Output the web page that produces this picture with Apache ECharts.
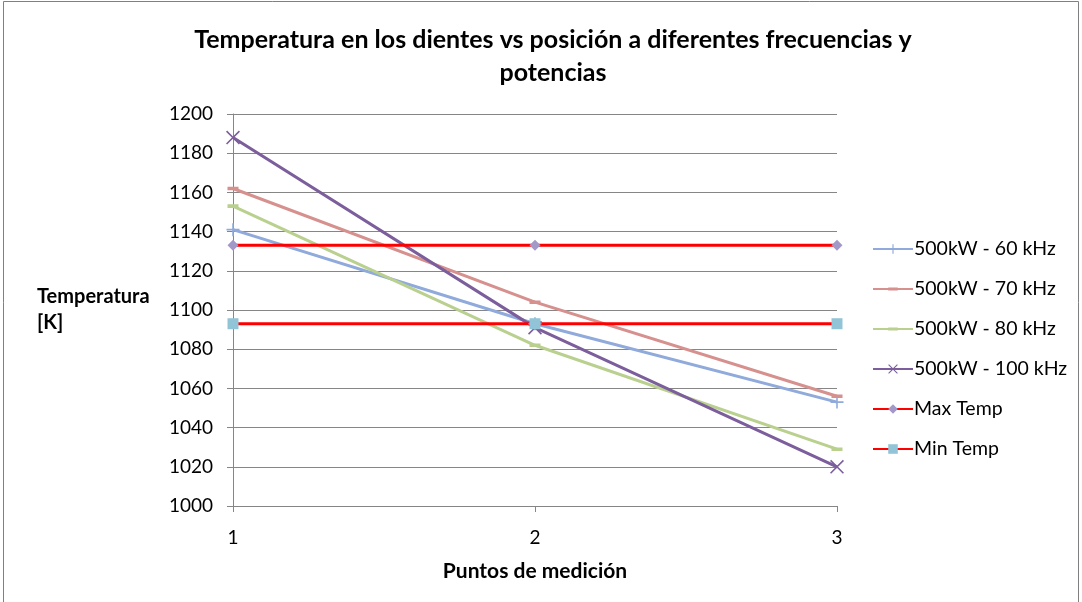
<!DOCTYPE html>
<html>
<head>
<meta charset="utf-8">
<script src="https://cdn.jsdelivr.net/npm/echarts@6/dist/echarts.min.js"></script>
<style>
  html, body { margin: 0; padding: 0; background: #fff; }
  #chart { width: 1082px; height: 602px; }
</style>
</head>
<body>
<div id="chart"></div>
<script>
// Measurement points along the tooth
const categories = ['1', '2', '3'];

// Temperatures [K] per power / frequency combination
const t60kHz = [1141, 1093, 1053];
const t70kHz = [1162, 1104, 1056];
const t80kHz = [1153, 1082, 1029];
const t100kHz = [1188, 1091, 1020];

// Limits
const maxTemp = [1133, 1133, 1133];
const minTemp = [1093, 1093, 1093];

const seriesNames = [
  '500kW - 60 kHz',
  '500kW - 70 kHz',
  '500kW - 80 kHz',
  '500kW - 100 kHz',
  'Max Temp',
  'Min Temp'
];

const FONT = 'Lato';

const plusSym = 'path://M4.4,0h1.2v10h-1.2z M0,4.4h10v1.2h-10z';
const crossSym = 'path://M0,0.8L0.8,0L10,9.2L9.2,10z M9.2,0L10,0.8L0.8,10L0,9.2z';
// short horizontal dash centred in a square box (the open sub-paths only widen the box)
const dashSym = 'path://M0,0L10,0 M0,3.4h10v3.2h-10z M0,10L10,10';

function lineSeries(name, data, color, symbol, size, symColor) {
  return {
    name: name,
    type: 'line',
    data: data,
    symbol: symbol,
    symbolSize: size,
    showSymbol: true,
    lineStyle: { color: color, width: 3 },
    itemStyle: { color: symColor || color },
    emphasis: { disabled: true },
    z: 2
  };
}

const chart = echarts.init(document.getElementById('chart'), null, { renderer: 'canvas' });

chart.setOption({
  animation: false,
  backgroundColor: '#ffffff',
  title: {
    text: 'Temperatura en los dientes vs posición a diferentes frecuencias y\npotencias',
    left: 548,
    textAlign: 'center',
    top: 18,
    textStyle: {
      fontFamily: FONT,
      fontWeight: 'bold',
      fontSize: 25,
      lineHeight: 33,
      color: '#000'
    }
  },
  legend: {
    orient: 'vertical',
    left: 872,
    top: 239,
    padding: 0,
    itemWidth: 40,
    itemHeight: 12,
    itemGap: 20,
    textStyle: { fontFamily: FONT, fontSize: 19.5, color: '#000', padding: [0, 0, 0, -4] },
    data: seriesNames
  },
  grid: { left: 233, right: 245, top: 114, bottom: 96 },
  xAxis: {
    type: 'category',
    data: categories,
    boundaryGap: false,
    name: 'Puntos de medición',
    nameLocation: 'middle',
    nameGap: 55,
    nameTextStyle: { fontFamily: FONT, fontWeight: 'bold', fontSize: 21, color: '#000' },
    axisLine: { lineStyle: { color: '#868686', width: 1 } },
    axisTick: { show: true, alignWithLabel: true, length: 6, lineStyle: { color: '#868686' } },
    axisLabel: { fontFamily: FONT, fontSize: 19, color: '#000', margin: 22 },
    splitLine: { show: false }
  },
  yAxis: {
    type: 'value',
    min: 1000,
    max: 1200,
    interval: 20,
    name: 'Temperatura\n[K]',
    nameLocation: 'middle',
    nameRotate: 0,
    nameGap: 196,
    nameTextStyle: { fontFamily: FONT, fontWeight: 'bold', fontSize: 20, color: '#000', lineHeight: 26, align: 'left' },
    axisLine: { show: true, lineStyle: { color: '#868686', width: 1 } },
    axisTick: { show: true, length: 6, lineStyle: { color: '#868686' } },
    axisLabel: { fontFamily: FONT, fontSize: 19, color: '#000', margin: 20, formatter: v => String(v) },
    splitLine: { show: true, lineStyle: { color: '#868686', width: 1 } }
  },
  graphic: [{
    type: 'rect',
    shape: { x: 3.5, y: 1.5, width: 1075, height: 610 },
    style: { fill: 'none', stroke: '#808080', lineWidth: 1 },
    silent: true,
    z: -1
  }],
  series: [
    lineSeries(seriesNames[0], t60kHz, '#8faadb', plusSym, 13),
    lineSeries(seriesNames[1], t70kHz, '#d6908e', dashSym, 11),
    lineSeries(seriesNames[2], t80kHz, '#b9d08f', dashSym, 11),
    lineSeries(seriesNames[3], t100kHz, '#7b5e9b', crossSym, 14),
    lineSeries(seriesNames[4], maxTemp, '#ff0000', 'diamond', 11, '#a299c9'),
    lineSeries(seriesNames[5], minTemp, '#ff0000', 'rect', 11, '#92c4d7')
  ]
});
</script>
</body>
</html>
